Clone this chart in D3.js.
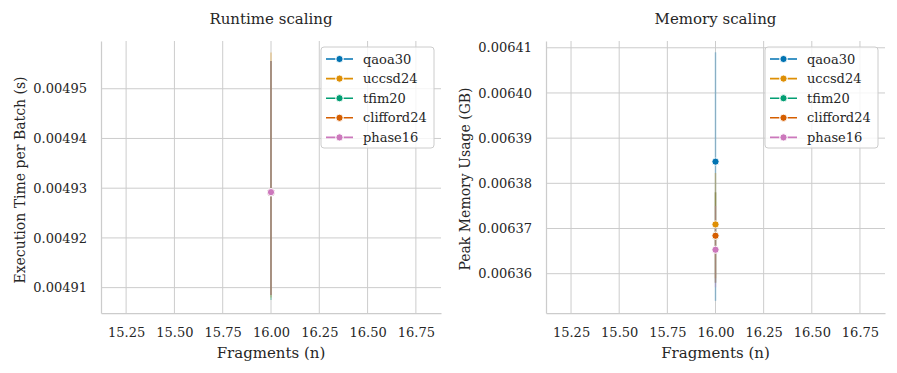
<!DOCTYPE html>
<html>
<head>
<meta charset="utf-8">
<script src="https://cdn.jsdelivr.net/npm/d3@7"></script>
<style>
  body { margin: 0; background: #fff; }
  text { font-family: "DejaVu Serif", serif; fill: #262626; }
</style>
</head>
<body>
<script>
const circuits = ["qaoa30", "uccsd24", "tfim20", "clifford24", "phase16"];
const colors = ["#0173b2", "#de8f05", "#029e73", "#d55e00", "#cc78bc"];
const fragments = 16;
const xTicks = [15.25, 15.5, 15.75, 16.0, 16.25, 16.5, 16.75];

const runtimeMean = [0.0049292, 0.0049292, 0.0049292, 0.0049292, 0.0049292];
const runtimeLow  = [0.0049085, 0.004908, 0.0049075, 0.0049085, 0.0049085];
const runtimeHigh = [0.0049556, 0.0049573, 0.0049556, 0.0049556, 0.0049556];
const runtimeTicks = [0.00491, 0.00492, 0.00493, 0.00494, 0.00495];

const memoryMean = [0.0063848, 0.0063709, 0.0063684, 0.0063684, 0.0063653];
const memoryLow  = [0.006354, 0.006359, 0.006358, 0.006358, 0.006357];
const memoryHigh = [0.006409, 0.0063823, 0.006378, 0.006378, 0.006375];
const memoryTicks = [0.00636, 0.00637, 0.00638, 0.00639, 0.00640, 0.00641];

const W = 897, H = 373;
const svg = d3.select("body").append("svg")
    .attr("width", W)
    .attr("height", H);

const panels = [
  { left: 101, right: 441, title: "Runtime scaling", ylabel: "Execution Time per Batch (s)",
    mean: runtimeMean, low: runtimeLow, high: runtimeHigh, ticks: runtimeTicks,
    ydomain: [0.0049049, 0.0049596], ylabelX: 25, ylabelY: 180 },
  { left: 546, right: 885, title: "Memory scaling", ylabel: "Peak Memory Usage (GB)",
    mean: memoryMean, low: memoryLow, high: memoryHigh, ticks: memoryTicks,
    ydomain: [0.0063513, 0.0064115], ylabelX: 470, ylabelY: 179 }
];
const plotTop = 41, plotBottom = 313;

panels.forEach(p => {
  const g = svg.append("g");
  const x = d3.scaleLinear().domain([15.12, 16.88]).range([p.left, p.right]);
  const y = d3.scaleLinear().domain(p.ydomain).range([plotBottom, plotTop]);

  // grid
  g.selectAll(".gx").data(xTicks).enter().append("line")
      .attr("x1", d => x(d)).attr("x2", d => x(d))
      .attr("y1", plotTop).attr("y2", plotBottom)
      .attr("stroke", "#cccccc").attr("stroke-width", 1);
  g.selectAll(".gy").data(p.ticks).enter().append("line")
      .attr("x1", p.left).attr("x2", p.right)
      .attr("y1", d => y(d)).attr("y2", d => y(d))
      .attr("stroke", "#cccccc").attr("stroke-width", 1);

  // axes
  const xAxis = g.append("g")
      .attr("transform", `translate(0,${plotBottom})`)
      .call(d3.axisBottom(x).tickValues(xTicks).tickFormat(d3.format(".2f")).tickSize(0).tickPadding(15));
  const yAxis = g.append("g")
      .attr("transform", `translate(${p.left},0)`)
      .call(d3.axisLeft(y).tickValues(p.ticks).tickFormat(d3.format(".5f")).tickSize(0).tickPadding(14));
  [xAxis, yAxis].forEach(a => {
    a.select(".domain").attr("stroke", "#cccccc").attr("stroke-width", 1.25);
    a.selectAll("text").style("font-size", "13px").style("font-family", "DejaVu Serif").attr("fill", "#262626");
  });

  // error bands (collapsed to vertical lines)
  circuits.forEach((c, i) => {
    g.append("line")
        .attr("x1", x(fragments)).attr("x2", x(fragments))
        .attr("y1", y(p.low[i])).attr("y2", y(p.high[i]))
        .attr("stroke", colors[i]).attr("stroke-opacity", 0.33)
        .attr("stroke-width", 1.6);
  });
  circuits.forEach((c, i) => {
    g.append("circle")
        .attr("cx", x(fragments)).attr("cy", y(p.mean[i]))
        .attr("r", 3.6)
        .attr("fill", colors[i])
        .attr("stroke", "#fff").attr("stroke-width", 0.9);
  });

  // titles
  g.append("text")
      .attr("x", (p.left + p.right) / 2).attr("y", 23.5)
      .attr("text-anchor", "middle")
      .style("font-size", "15px")
      .text(p.title);
  g.append("text")
      .attr("x", (p.left + p.right) / 2).attr("y", 358)
      .attr("text-anchor", "middle")
      .style("font-size", "15px")
      .text("Fragments (n)");
  g.append("text")
      .attr("transform", `translate(${p.ylabelX},${p.ylabelY}) rotate(-90)`)
      .attr("text-anchor", "middle")
      .style("font-size", "14px")
      .text(p.ylabel);

  // legend
  const lx = p.right - 120, ly = 47;
  g.append("rect")
      .attr("x", lx).attr("y", ly)
      .attr("width", 113).attr("height", 101)
      .attr("rx", 3)
      .attr("fill", "#fff").attr("fill-opacity", 0.8)
      .attr("stroke", "#cccccc").attr("stroke-width", 1);
  const leg = g.selectAll(".leg").data(circuits).enter().append("g")
      .attr("transform", (d, i) => `translate(${lx + 5},${ly + 12 + i * 19.6})`);
  leg.append("line")
      .attr("x1", 0).attr("x2", 27)
      .attr("stroke", (d, i) => colors[i])
      .attr("stroke-width", 1.6)
      .attr("stroke-dasharray", "9.5,3.5,1,3.5,9.5");
  leg.append("circle")
      .attr("cx", 13.5).attr("r", 3.6)
      .attr("fill", (d, i) => colors[i])
      .attr("stroke", "#fff").attr("stroke-width", 0.9);
  leg.append("text")
      .attr("x", 37).attr("y", 4.5)
      .style("font-size", "13px")
      .text(d => d);
});
</script>
</body>
</html>
